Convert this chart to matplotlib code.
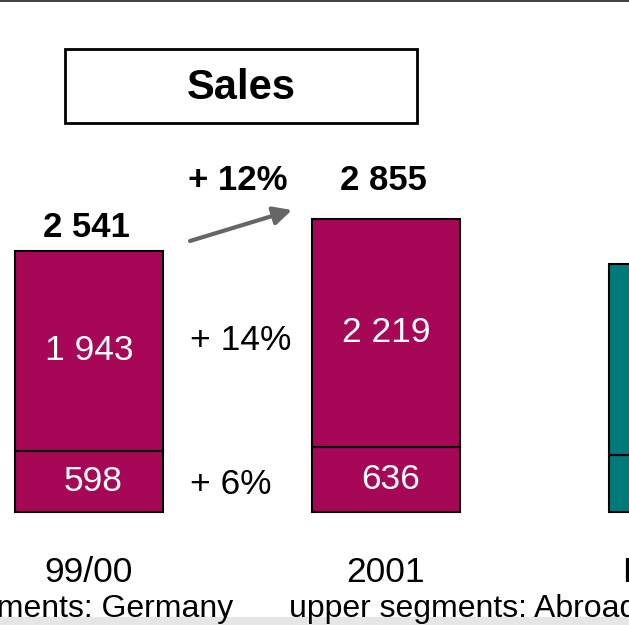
import matplotlib
matplotlib.use("Agg")
import matplotlib.pyplot as plt
from matplotlib.patches import Rectangle

plt.rcParams['font.family'] = ['Liberation Sans', 'DejaVu Sans']

# Sales by year, split into Germany (lower) and abroad (upper)
years = ["99/00", "2001", "Plan 02"]
germany = [598, 636, 555]
abroad = [1943, 2219, 1860]
totals = [2541, 2855]
bar_colors = ["#A60756", "#A60756", "#007A78"]
growth_total = "+ 12%"
growth_abroad = "+ 14%"
growth_germany = "+ 6%"

W, H = 629, 625
fig = plt.figure(figsize=(W / 100, H / 100), dpi=100)
ax = fig.add_axes([0, 0, 1, 1])
ax.set_xlim(-0.2997, 1.818)
ax.set_ylim(-1100, 4985)
ax.axis("off")

def fx(px):
    return px / W

def fy(py):
    return 1 - py / H

def fmt(v):
    return "{:,}".format(v).replace(",", " ")

x = range(len(years))
ax.bar(x, germany, width=0.5, color=bar_colors, edgecolor="black", linewidth=1.5)
ax.bar(x, abroad, bottom=germany, width=0.5, color=bar_colors, edgecolor="black", linewidth=1.5)

# segment values inside the bars
for i in range(2):
    ax.text(i + 0.015, germany[i] / 2, str(germany[i]), color="white",
            ha="center", va="center", fontsize=25.5)
    ax.text(i, germany[i] + abroad[i] / 2, fmt(abroad[i]),
            color="white", ha="center", va="center", fontsize=25.5)

# totals above the bars (second one sits on the growth line)
total_gap = [225, 375]
for i, t in enumerate(totals):
    ax.text(i - 0.01, t + total_gap[i], fmt(t), ha="center",
            va="center", fontsize=25, fontweight="bold")

# category labels
for i, y in enumerate(years):
    ax.text(i, -584, y, ha="center", va="center", fontsize=25.5)

# growth labels between bars
fig.text(fx(238), fy(180), growth_total, ha="center", va="center", fontsize=25, fontweight="bold")
fig.text(fx(241), fy(341), growth_abroad, ha="center", va="center", fontsize=25.5)
fig.text(fx(231), fy(484), growth_germany, ha="center", va="center", fontsize=25.5)

ax.annotate("", xy=(fx(292), fy(210)), xycoords="figure fraction",
            xytext=(fx(190), fy(241)), textcoords="figure fraction",
            arrowprops=dict(arrowstyle="-|>,head_length=1.1,head_width=0.55",
                            color="#666666", lw=3, shrinkA=0, shrinkB=0))

# title box
fig.patches.append(Rectangle((fx(65), fy(123)), fx(417) - fx(65), fy(49) - fy(123),
                             transform=fig.transFigure, fill=False,
                             edgecolor="black", linewidth=2))
fig.text(fx(241), fy(88), "Sales", ha="center", va="center", fontsize=30, fontweight="bold")

# footnote
fig.text(fx(233), fy(617), "lower segments: Germany", ha="right", va="baseline", fontsize=23)
fig.text(fx(289), fy(617), "upper segments: Abroad", ha="left", va="baseline", fontsize=23)

# top rule and bottom band
fig.patches.append(Rectangle((0, fy(2)), 1, fy(0) - fy(2), transform=fig.transFigure,
                             color="#444444", linewidth=0))
band = fig.add_axes([0, 0, 1, fy(617)])
band.set_facecolor("#E6E6E6")
band.set_xticks([])
band.set_yticks([])
for s in band.spines.values():
    s.set_visible(False)

fig.savefig("out.png", dpi=100)
